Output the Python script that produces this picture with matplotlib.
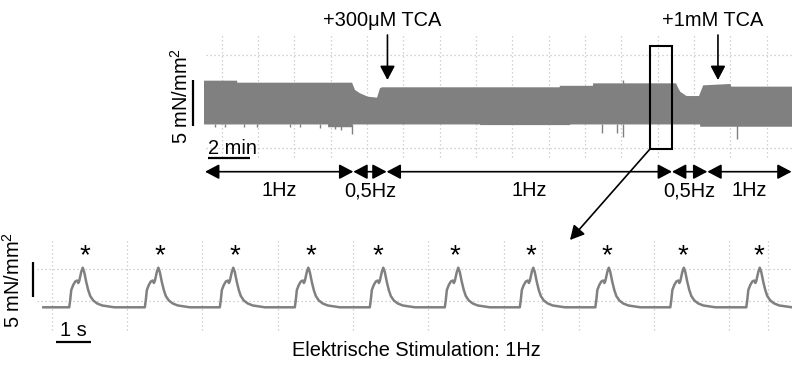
import matplotlib
matplotlib.use('Agg')
import matplotlib.pyplot as plt
from matplotlib.transforms import blended_transform_factory
from matplotlib.patches import Rectangle

plt.rcParams['font.family'] = ['Liberation Sans', 'DejaVu Sans']
plt.rcParams['mathtext.fontset'] = 'custom'
plt.rcParams['mathtext.rm'] = 'Liberation Sans'
plt.rcParams['mathtext.it'] = 'Liberation Sans:italic'
plt.rcParams['mathtext.bf'] = 'Liberation Sans:bold'

# ---------------- data: long recording (minutes, mN/mm^2) ----------------
top_upper_t = [0.0, 1.59, 1.60, 7.12, 7.26, 7.50, 7.88, 8.32, 8.46, 8.56, 17.1, 17.11, 18.7,
               18.71, 22.70, 22.80, 22.90, 23.20, 23.80, 24.00, 25.30, 25.35, 28.27]
top_upper_f = [4.71, 4.71, 4.49, 4.49, 3.70, 3.34, 2.97, 2.86, 3.88, 3.99, 3.99, 4.15, 4.15,
               4.42, 4.42, 3.90, 3.50, 3.04, 3.04, 4.20, 4.35, 4.06, 4.06]
top_lower_t = [0.0, 5.96, 5.97, 7.12, 7.13, 13.27, 13.28, 17.60, 17.61, 23.85, 23.86, 28.27]
top_lower_f = [-0.05, -0.05, -0.35, -0.35, -0.05, -0.05, -0.12, -0.12, -0.05, -0.05, -0.30, -0.30]
spike_down_t = [0.53, 1.0, 1.9, 2.55, 4.15, 4.6, 5.6, 6.3, 6.6, 7.12, 19.13, 19.86, 20.14, 25.63]
spike_down_f = [-0.33, -0.35, -0.30, -0.35, -0.33, -0.30, -0.40, -0.55, -0.60, -1.09, -0.95, -0.95, -1.45, -1.63]
spike_up_t = [20.14]
spike_up_f = [4.78]

phase_bounds = [0.05, 7.18, 8.78, 22.50, 24.20, 28.25]
phase_labels = ['1Hz', '0,5Hz', '1Hz', '0,5Hz', '1Hz']
tca_times = [8.82, 24.71]
tca_labels = ['+300μM TCA', '+1mM TCA']
zoom_window = [21.44, 22.50]

# ---------------- data: single twitches (seconds, mN/mm^2) ----------------
twitch_dt = [0.0, 0.013, 0.027, 0.053, 0.080, 0.106, 0.120, 0.133, 0.159, 0.179,
             0.199, 0.226, 0.252, 0.279, 0.319, 0.372, 0.438, 0.531, 0.598]
twitch_f = [0.0, 1.04, 2.47, 3.19, 3.69, 3.83, 3.47, 3.76, 5.04, 5.66,
            5.04, 3.61, 2.47, 1.61, 0.97, 0.54, 0.26, 0.11, 0.0]
stim_onsets = [0.344, 1.348, 2.344, 3.340, 4.336, 5.332, 6.328, 7.331, 8.327, 9.336]
star_times = [0.554, 1.550, 2.546, 3.555, 4.445, 5.467, 6.477, 7.486, 8.495, 9.504]
bottom_end = 9.943

W, H = 792, 365
fig = plt.figure(figsize=(W / 100, H / 100), dpi=100)

def box(x0, y0, x1, y1):
    return [x0 / W, 1 - y1 / H, (x1 - x0) / W, (y1 - y0) / H]

GRID = dict(color='#c4c4c4', linestyle=(0, (1, 2.2)), linewidth=0.9, zorder=0)
TRACE = '#808080'
FS = 14.4
UNIT = '5 mN/mm$^{2}$'

# ---------------- top axes ----------------
ax1 = fig.add_axes(box(204, 30, 792, 165))
ax1.set_xlim(0, 28.27)
ax1.set_ylim(-4.457, 10.217)
ax1.axis('off')
gx = [0.851 + 1.747 * k for k in range(16)]
ax1.vlines(gx, -3.59, 9.89, **GRID)
ax1.hlines([7.5, 2.45, -2.61], 0.1, 28.27, **GRID)
poly_t = top_upper_t + top_lower_t[::-1]
poly_f = top_upper_f + top_lower_f[::-1]
ax1.fill(poly_t, poly_f, color=TRACE, lw=0, zorder=2)
ax1.vlines(spike_down_t, -0.05, spike_down_f, color=TRACE, lw=1.0, zorder=2)
ax1.vlines(spike_up_t, 4.0, spike_up_f, color=TRACE, lw=1.0, zorder=2)
# scale bars
ax1.plot([-0.53, -0.53], [-0.22, 4.78], color='black', lw=1.6, clip_on=False, solid_capstyle='butt')
ax1.plot([0.21, 2.21], [-3.7, -3.7], color='black', lw=1.6, clip_on=False, solid_capstyle='butt')
ax1.text(-1.12, 3.0, UNIT, rotation=90, ha='center', va='center', fontsize=FS)
ax1.text(1.35, -2.65, '2 min', ha='center', va='center', fontsize=FS)
ax1.add_patch(Rectangle((zoom_window[0], -2.72), zoom_window[1] - zoom_window[0], 11.2,
                        fill=False, ec='black', lw=1.5, clip_on=False, zorder=5))

# ---------------- bottom axes ----------------
ax2 = fig.add_axes(box(30, 232, 792, 335))
ax2.set_xlim(-0.177, 9.943)
ax2.set_ylim(-3.957, 10.757)
ax2.axis('off')
bgx = [0.112 + k for k in range(10)] + [6.62, 9.63]
ax2.vlines(bgx, -3.24, 9.61, **GRID)
ax2.hlines([5.4, 0.9], -0.088, 9.943, **GRID)
bt, bf = [0.0], [0.0]
for on in stim_onsets:
    for d, f in zip(twitch_dt, twitch_f):
        if on + d <= bottom_end:
            bt.append(on + d)
            bf.append(f)
bt.append(bottom_end)
bf.append(0.0)
ax2.plot(bt, bf, color=TRACE, lw=1.8, zorder=2)
for st in star_times:
    ax2.text(st, 6.3, '*', ha='center', va='baseline', fontsize=20)
ax2.plot([-0.137, -0.137], [1.47, 6.47], color='black', lw=1.6, clip_on=False, solid_capstyle='butt')
ax2.plot([0.168, 0.629], [-5.0, -5.0], color='black', lw=1.6, clip_on=False, solid_capstyle='butt')
ax2.text(0.395, -3.25, '1 s', ha='center', va='center', fontsize=FS)
ax2.text(-0.41, 3.95, UNIT, rotation=90, ha='center', va='center', fontsize=FS, clip_on=False)

# ---------------- overlay (pixel space) for annotations ----------------
ov = fig.add_axes([0, 0, 1, 1], zorder=10)
ov.set_xlim(0, W)
ov.set_ylim(H, 0)
ov.axis('off')
ov.patch.set_alpha(0)
tr = blended_transform_factory(ax1.transData, ov.transData)

head = '-|>,head_length=0.85,head_width=0.45'
for t, lab in zip(tca_times, tca_labels):
    ov.annotate('', xy=(t, 80), xytext=(t, 35), xycoords=tr, textcoords=tr,
                arrowprops=dict(arrowstyle=head, color='black', lw=1.2,
                                shrinkA=0, shrinkB=0, mutation_scale=10))
    ov.text(t - 0.25, 21, lab, transform=tr, ha='center', va='center', fontsize=FS)

for a, b, lab in zip(phase_bounds[:-1], phase_bounds[1:], phase_labels):
    ov.annotate('', xy=(b, 171.7), xytext=(a, 171.7), xycoords=tr, textcoords=tr,
                arrowprops=dict(arrowstyle='<|-|>,head_length=0.85,head_width=0.45',
                                color='black', lw=1.2, shrinkA=0, shrinkB=0,
                                mutation_scale=10))
    ov.text((a + b) / 2, 191, lab, transform=tr, ha='center', va='center', fontsize=FS)

ov.annotate('', xy=(570, 240), xytext=(650, 149),
            arrowprops=dict(arrowstyle=head, color='black', lw=1.2,
                            shrinkA=0, shrinkB=0, mutation_scale=10))
ov.text(416, 351, 'Elektrische Stimulation: 1Hz', ha='center', va='center', fontsize=FS)

fig.savefig('out.png', dpi=100)
